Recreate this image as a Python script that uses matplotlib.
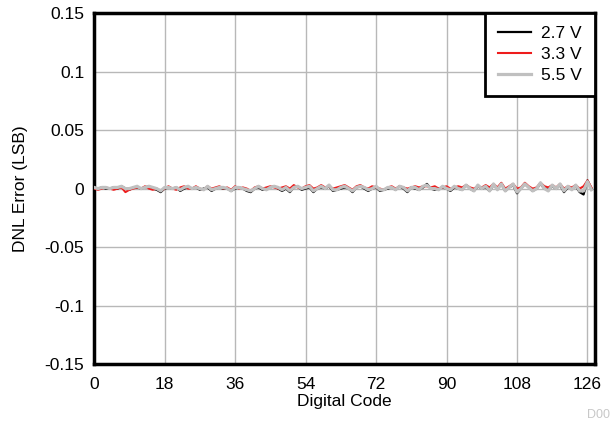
import matplotlib
matplotlib.use("Agg")
import matplotlib.pyplot as plt
import numpy as np

plt.rcParams['font.family'] = ['Liberation Sans', 'DejaVu Sans']

codes = np.arange(128)

dnl_27 = [
    0.000, 0.000, 0.001, 0.000, 0.000, 0.001, 0.000, 0.002, 0.000, -0.001, 0.001, 0.001, 0.000, 0.001, 0.002, 0.000,
    -0.001, -0.003, 0.000, 0.001, 0.000, 0.001, -0.002, 0.000, 0.001, 0.000, 0.001, -0.001, 0.000, 0.001, -0.002, 0.000,
    0.001, 0.000, 0.000, -0.002, 0.000, 0.001, 0.000, -0.002, -0.003, 0.000, 0.001, -0.001, 0.000, 0.001, 0.002, 0.000,
    -0.002, 0.000, -0.003, 0.001, 0.002, -0.001, 0.000, 0.001, -0.003, 0.000, 0.001, 0.000, 0.002, -0.002, -0.001, 0.000,
    0.001, 0.000, -0.003, 0.001, 0.002, 0.000, -0.002, 0.000, 0.001, -0.002, -0.001, 0.000, 0.001, -0.001, 0.002, 0.000,
    -0.003, 0.001, 0.000, -0.001, 0.001, 0.004, 0.000, -0.001, 0.000, 0.001, 0.000, -0.002, 0.001, 0.000, -0.001, 0.003,
    0.000, -0.002, 0.002, 0.000, 0.001, -0.002, 0.003, 0.000, 0.004, -0.002, 0.001, 0.003, -0.004, 0.000, 0.004, 0.001,
    -0.002, 0.000, 0.004, 0.000, -0.001, 0.002, 0.000, 0.003, -0.003, 0.001, 0.000, 0.002, -0.003, -0.005, 0.007, 0.000,
]

dnl_33 = [
    0.000, -0.001, 0.000, 0.001, 0.000, -0.001, 0.000, 0.001, -0.003, -0.001, 0.000, 0.001, 0.000, 0.002, 0.000, -0.001,
    0.000, -0.002, 0.000, 0.002, 0.000, -0.001, 0.001, 0.002, 0.000, 0.000, 0.002, 0.000, -0.001, 0.002, 0.000, 0.001,
    0.002, 0.000, 0.001, -0.001, 0.002, 0.000, 0.001, 0.000, -0.002, 0.001, 0.002, 0.000, 0.001, 0.002, 0.001, 0.000,
    0.001, 0.002, 0.000, 0.003, 0.001, 0.000, 0.002, 0.003, 0.000, 0.001, 0.003, 0.001, 0.002, 0.000, 0.001, 0.002,
    0.003, 0.001, -0.001, 0.002, 0.003, 0.001, 0.000, 0.002, 0.001, 0.000, -0.001, 0.001, 0.002, 0.000, 0.002, 0.001,
    0.000, 0.001, 0.002, 0.001, 0.002, 0.002, 0.001, 0.002, 0.000, 0.001, 0.002, 0.000, 0.001, 0.002, 0.001, 0.003,
    0.001, 0.000, 0.002, 0.001, 0.003, 0.001, 0.004, 0.001, 0.005, 0.000, 0.002, 0.004, 0.000, 0.001, 0.005, 0.002,
    0.000, 0.001, 0.005, 0.002, 0.001, 0.003, 0.001, 0.004, 0.000, 0.002, 0.001, 0.003, 0.000, 0.002, 0.007, 0.001,
]

dnl_55 = [
    0.001, 0.000, 0.001, 0.001, 0.000, 0.001, 0.001, 0.002, 0.000, 0.000, 0.001, 0.002, 0.000, 0.001, 0.002, 0.001,
    0.000, -0.002, 0.001, 0.001, 0.000, 0.001, -0.001, 0.001, 0.002, 0.000, 0.001, 0.000, -0.001, 0.002, -0.001, 0.000,
    0.001, 0.001, 0.000, -0.002, 0.001, 0.001, 0.000, -0.001, -0.002, 0.000, 0.002, 0.000, -0.001, 0.001, 0.002, 0.001,
    -0.001, 0.001, -0.002, 0.001, 0.002, 0.000, 0.001, 0.002, -0.002, 0.000, 0.002, 0.000, 0.003, -0.001, -0.001, 0.001,
    0.002, 0.000, -0.002, 0.001, 0.002, 0.001, -0.001, 0.000, 0.002, -0.001, -0.001, 0.001, 0.001, -0.001, 0.002, 0.001,
    -0.002, 0.001, 0.001, -0.001, 0.002, 0.003, 0.000, 0.000, -0.001, 0.002, 0.000, -0.001, 0.002, 0.000, -0.001, 0.003,
    0.000, -0.002, 0.003, 0.000, 0.002, -0.002, 0.004, -0.001, 0.004, -0.002, 0.001, 0.004, -0.003, 0.000, 0.004, 0.001,
    -0.002, 0.000, 0.005, 0.000, -0.002, 0.003, 0.000, 0.004, -0.002, 0.002, -0.001, 0.003, -0.002, -0.002, 0.006, -0.001,
]

xticks = [0, 18, 36, 54, 72, 90, 108, 126]
yticks = [-0.15, -0.1, -0.05, 0, 0.05, 0.1, 0.15]
ylabels = ['-0.15', '-0.1', '-0.05', '0', '0.05', '0.1', '0.15']

fig = plt.figure(figsize=(6.15, 4.21), dpi=100)
ax = fig.add_axes([0.153, 0.135, 0.815, 0.834])

ax.plot(codes, dnl_27, color='black', lw=1.6, label='2.7 V', zorder=2)
ax.plot(codes, dnl_33, color='#ee1c1c', lw=1.5, label='3.3 V', zorder=3)
ax.plot(codes, dnl_55, color='#c0c0c0', lw=2.3, label='5.5 V', zorder=4)

ax.set_xlim(0, 128)
ax.set_ylim(-0.15, 0.15)
ax.set_xticks(xticks)
ax.set_yticks(yticks)
ax.set_yticklabels(ylabels)
ax.tick_params(length=0, labelsize=12.5)
ax.tick_params(axis='x', pad=9)
ax.tick_params(axis='y', pad=7)
ax.grid(True, color='#b8b8b8', lw=1)
ax.set_axisbelow(True)
for s in ax.spines.values():
    s.set_linewidth(2.5)

ax.set_xlabel('Digital Code', fontsize=12.5, labelpad=2)
ax.set_ylabel('DNL Error (LSB)', fontsize=12.5, labelpad=12)

leg = ax.legend(loc='upper right', fontsize=12.5, fancybox=False, framealpha=1,
                edgecolor='black', borderaxespad=0, handlelength=1.9,
                labelspacing=0.32, borderpad=0.75, handletextpad=0.6)
leg.get_frame().set_linewidth(2)

fig.text(0.955, 0.006, 'D00', color='#c8c8c8', fontsize=9)

fig.savefig('out.png', dpi=100)
